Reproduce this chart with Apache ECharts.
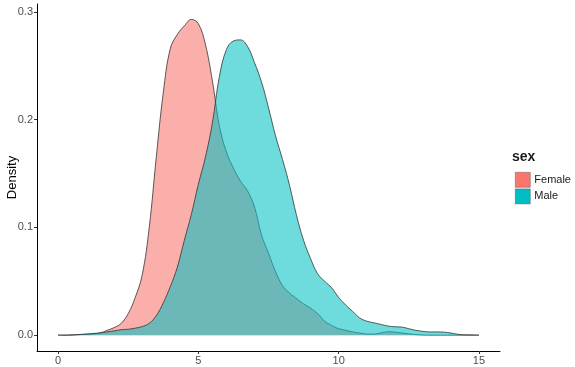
<!DOCTYPE html>
<html>
<head>
<meta charset="utf-8">
<script src="https://cdn.jsdelivr.net/npm/echarts@6/dist/echarts.min.js"></script>
<style>
  html, body { margin: 0; padding: 0; background: #fff; }
  #chart { width: 575px; height: 367px; }
</style>
</head>
<body>
<div id="chart"></div>
<script>
// x positions the density was read at
let xs = [];
for (let i = 0; i <= 60; i++) xs.push(i * 0.25);

let groups = ["Female", "Male"];

let femaleDensity = [
  0, 0, 0.0002, 0.0005, 0.0008, 0.0012, 0.002, 0.0045, 0.007, 0.011,
  0.02, 0.035, 0.056, 0.1, 0.165, 0.225, 0.266, 0.279, 0.287, 0.293,
  0.289, 0.27, 0.236, 0.194, 0.17, 0.155, 0.143, 0.134, 0.119, 0.093,
  0.076, 0.059, 0.046, 0.039, 0.034, 0.029, 0.025, 0.02, 0.013, 0.009,
  0.006, 0.0045, 0.003, 0.002, 0.001, 0.001, 0.002, 0.0032, 0.0028, 0.002,
  0.0012, 0.0005, 0.0002, 0, 0, 0, 0, 0, 0, 0, 0
];

let maleDensity = [
  0, 0, 0.0002, 0.0006, 0.001, 0.0015, 0.0022, 0.003, 0.004, 0.005,
  0.0055, 0.0065, 0.008, 0.011, 0.018, 0.03, 0.045, 0.063, 0.088, 0.112,
  0.14, 0.165, 0.197, 0.24, 0.265, 0.273, 0.274, 0.268, 0.253, 0.235,
  0.211, 0.185, 0.163, 0.139, 0.111, 0.088, 0.071, 0.057, 0.05, 0.044,
  0.035, 0.028, 0.022, 0.016, 0.013, 0.0115, 0.01, 0.0085, 0.0078, 0.0075,
  0.006, 0.0045, 0.0035, 0.003, 0.003, 0.0028, 0.002, 0.0008, 0.0003, 0.0002, 0
];

let xTicks = [0, 5, 10, 15];
let yTicks = [0, 0.1, 0.2, 0.3];

let colors = ["#F8766D", "#00BFC4"];
let fills = ["rgba(248,118,109,0.58)", "rgba(0,191,196,0.57)"];

let chart = echarts.init(document.getElementById("chart"), null, { renderer: "canvas" });

function pairs(ys) {
  return xs.map((x, i) => [x, ys[i]]);
}

let allData = [femaleDensity, maleDensity];

let opt = {
  animation: false,
  backgroundColor: "#fff",
  textStyle: { fontFamily: "Liberation Sans, Arial, sans-serif" },
  title: {
    text: "sex",
    left: 512,
    top: 150,
    padding: 0,
    textStyle: { fontSize: 14, fontWeight: "bold", color: "#1a1a1a", fontFamily: "Liberation Sans, Arial, sans-serif" }
  },
  legend: {
    orient: "vertical",
    left: 510,
    top: 167,
    itemWidth: 15,
    itemHeight: 15,
    itemGap: 1,
    icon: "rect",
    textStyle: { fontSize: 11, color: "#1a1a1a", padding: [0, 0, 0, -1] },
    data: groups.map((g, i) => ({
      name: g,
      itemStyle: { color: colors[i], borderColor: "rgba(60,60,60,0.6)", borderWidth: 0.6 }
    }))
  },
  grid: { left: 37, right: 75, top: 4, bottom: 16, containLabel: false, outerBoundsMode: "none" },
  xAxis: {
    type: "value",
    min: -0.75,
    max: 15.75,
    axisLine: { show: true, onZero: false, lineStyle: { color: "#000", width: 1 } },
    axisTick: { show: true, customValues: xTicks, length: 3, lineStyle: { color: "#333" } },
    axisLabel: { customValues: xTicks, color: "#4D4D4D", fontSize: 11, margin: 4 },
    splitLine: { show: false }
  },
  yAxis: {
    type: "value",
    min: -0.0147,
    max: 0.3073,
    name: "Density",
    nameLocation: "middle",
    nameGap: 18,
    nameMoveOverlap: false,
    nameTextStyle: { color: "#000", fontSize: 13 },
    axisLine: { show: true, onZero: false, lineStyle: { color: "#000", width: 1 } },
    axisTick: { show: true, customValues: yTicks, length: 3, lineStyle: { color: "#333" } },
    axisLabel: {
      customValues: yTicks,
      color: "#4D4D4D",
      fontSize: 11,
      margin: 4,
      formatter: v => v.toFixed(1)
    },
    splitLine: { show: false }
  },
  series: groups.map((g, i) => ({
    name: g,
    type: "line",
    data: pairs(allData[i]),
    smooth: 0.4,
    showSymbol: false,
    symbol: "none",
    itemStyle: { color: colors[i] },
    lineStyle: { color: "#333", width: 0.8 },
    areaStyle: { color: fills[i], opacity: 1, origin: 0 },
    z: 2 + i
  }))
};

chart.setOption(opt);
</script>
</body>
</html>
